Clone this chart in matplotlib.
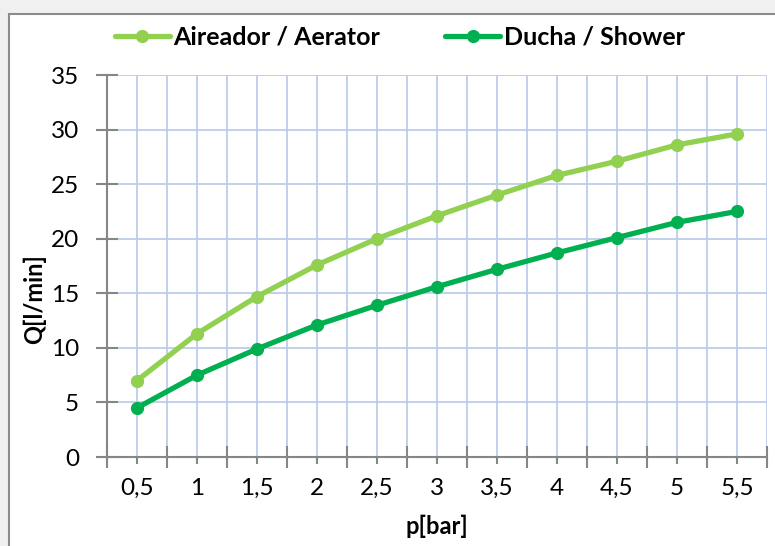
import numpy as np
import matplotlib
matplotlib.use('Agg')
import matplotlib.pyplot as plt
from matplotlib.patches import Rectangle

plt.rcParams['font.family'] = ['Lato', 'DejaVu Sans']

pressure = ['0,5', '1', '1,5', '2', '2,5', '3', '3,5', '4', '4,5', '5', '5,5']
aerator = [7.0, 11.3, 14.7, 17.6, 20.0, 22.1, 24.0, 25.8, 27.1, 28.6, 29.6]
shower = [4.5, 7.5, 9.9, 12.1, 13.9, 15.6, 17.2, 18.7, 20.1, 21.5, 22.5]
series_names = ['Aireador / Aerator', 'Ducha / Shower']
series_colors = ['#92d050', '#00b050']

fig = plt.figure(figsize=(7.75, 5.46), dpi=100, facecolor='#f0f0f0')
# white chart area with grey frame (only top/left visible in the crop)
fig.patches.append(Rectangle((8.5 / 775, -0.2), 1.2, 1.2 - 13.5 / 546,
                             transform=fig.transFigure, facecolor='white',
                             edgecolor='#8c8c8c', lw=1.5, zorder=-10))

ax = fig.add_axes([107 / 775, 89 / 546, 660 / 775, 382 / 546])
ax.set_facecolor('white')

x = np.arange(len(pressure))
for vals, name, col in zip([aerator, shower], series_names, series_colors):
    ax.plot(x, vals, color=col, lw=3.8, marker='o', markersize=8.5,
            label=name, solid_capstyle='round', zorder=3)

ax.set_xlim(-0.5, len(pressure) - 0.5)
ax.set_ylim(0, 35)
ax.set_yticks(np.arange(0, 36, 5))
ax.set_xticks(np.arange(-0.5, len(pressure), 1))
ax.set_xticklabels([])
ax.set_xticks(x, minor=True)
ax.set_xticklabels(pressure, minor=True)

grid_col = '#bccdea'
ax.grid(True, which='both', color=grid_col, lw=1.3, zorder=0)
ax.set_axisbelow(True)

for s in ['top', 'right']:
    ax.spines[s].set_visible(False)
for s in ['left', 'bottom']:
    ax.spines[s].set_color('#868686')
    ax.spines[s].set_linewidth(1.5)

ax.tick_params(axis='y', direction='inout', length=16, width=1.5, color='#868686',
               labelsize=17.5, pad=12)
ax.tick_params(axis='x', which='major', direction='inout', length=16, width=1.5,
               color='#868686')
ax.tick_params(axis='x', which='minor', direction='out', length=5, width=1.5,
               color='#868686', labelsize=17.5, pad=10)

ax.set_xlabel('p[bar]', fontsize=17, fontweight='bold')
ax.xaxis.set_label_coords(0.5, -0.152)
ax.set_ylabel('Q[l/min]', fontsize=17, fontweight='bold')
ax.yaxis.set_label_coords(-0.092, 0.414)

fig.legend(loc='center', bbox_to_anchor=(0.516, 0.932), ncol=2, frameon=False,
           prop={'weight': 'bold', 'size': 18}, handlelength=2.2,
           handletextpad=0.15, columnspacing=2.6)

fig.savefig('out.png', dpi=100, facecolor=fig.get_facecolor())
